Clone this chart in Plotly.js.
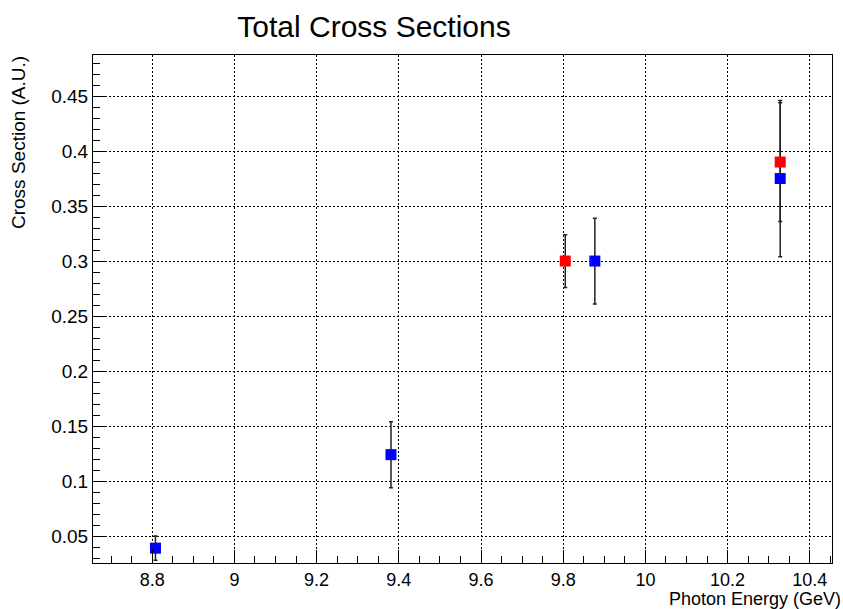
<!DOCTYPE html>
<html>
<head>
<meta charset="utf-8">
<script src="https://cdn.plot.ly/plotly-3.0.1.min.js"></script>
<style>html,body{margin:0;padding:0;background:#fff;}#chart{width:843px;height:609px;}</style>
</head>
<body>
<div id="chart"></div>
<script>
// Data
const redX = [9.805, 10.328];
const redY = [0.300, 0.390];
const redErr = [0.024, 0.054];

const blueX = [8.808, 9.381, 9.877, 10.328];
const blueY = [0.039, 0.124, 0.300, 0.375];
const blueErr = [0.011, 0.030, 0.039, 0.071];

const titleText = "Total Cross Sections";
const xTitle = "Photon Energy (GeV)";
const yTitle = "Cross Section (A.U.)";

const FONT = "'Liberation Sans', Arial, Helvetica, sans-serif";

function errTrace(x, y, e) {
  return {
    x: x, y: y, type: 'scatter', mode: 'markers',
    marker: {size: 11, symbol: 'square', opacity: 0},
    error_y: {type: 'data', array: e, visible: true, color: '#222', thickness: 1.5, width: 2},
    hoverinfo: 'skip', showlegend: false
  };
}
function markTrace(x, y, color, name) {
  return {
    x: x, y: y, type: 'scatter', mode: 'markers', name: name,
    marker: {size: 11, symbol: 'square', color: color, line: {width: 0}},
    showlegend: false
  };
}

const data = [
  errTrace(blueX, blueY, blueErr),
  errTrace(redX, redY, redErr),
  markTrace(redX, redY, '#ff0000', 'red'),
  markTrace(blueX, blueY, '#0000ff', 'blue')
];

const axisCommon = {
  showline: true, mirror: true, linecolor: '#000', linewidth: 1,
  ticks: 'inside', tickcolor: '#000', tickwidth: 1,
  showgrid: true, gridcolor: '#000', gridwidth: 1, griddash: '2px,2px',
  zeroline: false,
  tickfont: {family: FONT, size: 19, color: '#000'}
};

const layout = {
  width: 843, height: 609,
  margin: {l: 93, r: 11, t: 55, b: 46},
  paper_bgcolor: '#fff', plot_bgcolor: '#fff',
  font: {family: FONT, color: '#000'},
  title: {
    text: titleText, font: {family: FONT, size: 30, color: '#000'},
    xref: 'container', yref: 'container', x: 374 / 843, xanchor: 'center',
    y: 1 - 26 / 609, yanchor: 'middle'
  },
  xaxis: Object.assign({}, axisCommon, {
    range: [8.656, 10.454], tick0: 8.8, dtick: 0.2, ticklen: 13,
    tickfont: {family: FONT, size: 18, color: '#000'},
    minor: {dtick: 0.05, tick0: 8.8, ticks: 'inside', ticklen: 7, tickcolor: '#000', showgrid: false}
  }),
  yaxis: Object.assign({}, axisCommon, {
    range: [0.0255, 0.4873], tick0: 0.05, dtick: 0.05, ticklen: 13,
    minor: {dtick: 0.01, tick0: 0.05, ticks: 'inside', ticklen: 7, tickcolor: '#000', showgrid: false}
  }),
  annotations: [
    {text: xTitle, xref: 'paper', yref: 'paper', x: 1, y: 0, xanchor: 'right', yanchor: 'top',
     xshift: 10, yshift: -25, borderpad: 0, showarrow: false, font: {family: FONT, size: 18, color: '#000'}},
    {text: yTitle, xref: 'paper', yref: 'paper', x: 0, y: 1, xanchor: 'left', yanchor: 'top',
     xshift: -93 + 6, yshift: 1, textangle: -90, showarrow: false, font: {family: FONT, size: 19, color: '#000'}}
  ]
};

Plotly.newPlot('chart', data, layout, {displayModeBar: false, staticPlot: true});
</script>
</body>
</html>
